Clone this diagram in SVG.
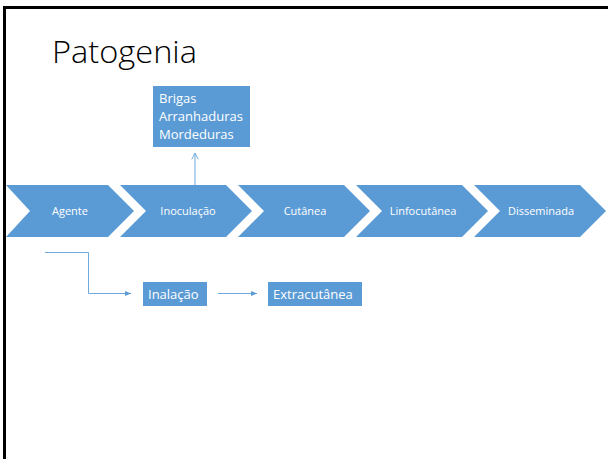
<svg xmlns="http://www.w3.org/2000/svg" width="608" height="459" viewBox="0 0 608 459">
<defs>
<style>
.chev{fill:#5B9BD5}
.box{fill:#5B9BD5}
.lbl{font-family:"Open Sans","Noto Sans","Liberation Sans",sans-serif;fill:#ffffff}
.con{stroke:#6FA8DC;stroke-width:1;fill:none}
</style>
<marker id="tri" viewBox="0 0 10 10" refX="10" refY="5" markerWidth="6" markerHeight="6" orient="auto" markerUnits="userSpaceOnUse">
<path d="M0,1 L10,5 L0,9 Z" fill="#5B9BD5"/>
</marker>
<marker id="vee" viewBox="0 0 10 10" refX="9" refY="5" markerWidth="8" markerHeight="8" orient="auto" markerUnits="userSpaceOnUse">
<path d="M1,1 L9,5 L1,9" fill="none" stroke="#6FA8DC" stroke-width="1.2"/>
</marker>
</defs>
<rect x="0" y="0" width="608" height="459" fill="#ffffff"/>
<rect x="4.5" y="7.5" width="700" height="500" fill="none" stroke="#000000" stroke-width="3"/>
<text x="52" y="63" font-family="'Open Sans','Noto Sans',sans-serif" font-weight="300" font-size="31" fill="#000000" textLength="145" lengthAdjust="spacingAndGlyphs">Patogenia</text>

<g id="connectors">
<line class="con" x1="195" y1="185" x2="195" y2="153" marker-end="url(#vee)"/>
<polyline class="con" points="45,252.5 88.5,252.5 88.5,293.5 131,293.5" marker-end="url(#tri)"/>
<line class="con" x1="218" y1="293.5" x2="257" y2="293.5" marker-end="url(#tri)"/>
</g>

<g id="agente">
<polygon class="chev" points="6,185 108,185 134,211 108,237 6,237 30,211"/>
<text class="lbl" x="70" y="215" font-size="11" text-anchor="middle">Agente</text>
</g>
<g id="inoculacao">
<polygon class="chev" points="120,185 226,185 252,211 226,237 120,237 146,211"/>
<text class="lbl" x="188" y="215" font-size="11" text-anchor="middle">Inoculação</text>
</g>
<g id="cutanea">
<polygon class="chev" points="238,185 344,185 370,211 344,237 238,237 264,211"/>
<text class="lbl" x="305" y="215" font-size="11" text-anchor="middle">Cutânea</text>
</g>
<g id="linfocutanea">
<polygon class="chev" points="356,185 462,185 488,211 462,237 356,237 382,211"/>
<text class="lbl" x="423" y="215" font-size="11" text-anchor="middle">Linfocutânea</text>
</g>
<g id="disseminada">
<polygon class="chev" points="474,185 580,185 606,211 580,237 474,237 500,211"/>
<text class="lbl" x="541" y="215" font-size="11" text-anchor="middle">Disseminada</text>
</g>

<g id="brigas">
<rect class="box" x="153" y="86" width="97" height="61"/>
<text class="lbl" font-size="13">
<tspan x="159" y="103">Brigas</tspan>
<tspan x="159" y="121">Arranhaduras</tspan>
<tspan x="159" y="139">Mordeduras</tspan>
</text>
</g>

<g id="inalacao">
<rect class="box" x="143" y="282" width="64" height="24"/>
<text class="lbl" x="148" y="299" font-size="13">Inalação</text>
</g>
<g id="extracutanea">
<rect class="box" x="268" y="282" width="94" height="24"/>
<text class="lbl" x="273" y="299" font-size="13">Extracutânea</text>
</g>
</svg>
